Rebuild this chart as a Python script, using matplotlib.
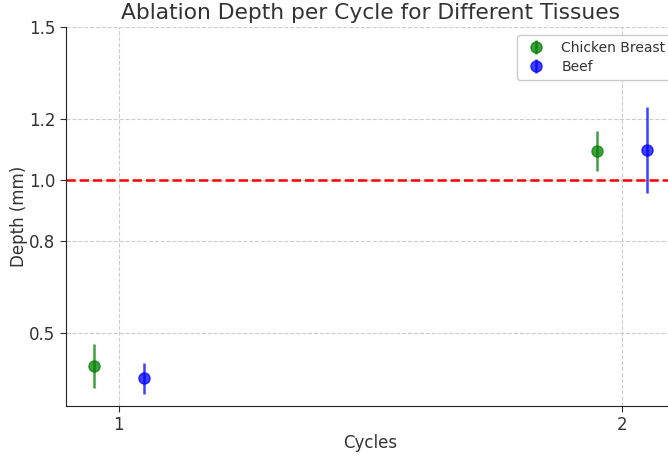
import matplotlib.pyplot as plt

cycles = [1, 2]
chicken_depth = [0.39, 1.095]
chicken_err = [0.072, 0.066]
beef_depth = [0.35, 1.098]
beef_err = [0.05, 0.14]
target_depth = 1.0
offset = 0.05

text_color = '#333333'

fig = plt.figure(figsize=(6.68, 4.57), dpi=100)
ax = fig.add_axes([0.0988, 0.1116, 0.9117, 0.8293])

ax.errorbar([c - offset for c in cycles], chicken_depth, yerr=chicken_err,
            fmt='o', color='green', alpha=0.75, markersize=8, elinewidth=1.8,
            label='Chicken Breast', zorder=3)
ax.errorbar([c + offset for c in cycles], beef_depth, yerr=beef_err,
            fmt='o', color='blue', alpha=0.75, markersize=8, elinewidth=1.8,
            label='Beef', zorder=3)
ax.axhline(target_depth, color='red', linestyle='--', linewidth=1.8, zorder=2)

ax.set_xticks(cycles)
ax.set_yticks([0.5, 0.8, 1.0, 1.2, 1.5])
ax.set_yticklabels(['0.5', '0.8', '1.0', '1.2', '1.5'])
ax.set_xlim(0.895, 2.105)
ax.set_ylim(0.26, 1.5)

ax.grid(True, linestyle='--', color='#cccccc', linewidth=0.8)
ax.set_axisbelow(True)
for side in ['top', 'right']:
    ax.spines[side].set_visible(False)
for side in ['left', 'bottom']:
    ax.spines[side].set_color('#222222')
ax.tick_params(colors=text_color, labelsize=12, length=4)

ax.set_title('Ablation Depth per Cycle for Different Tissues', fontsize=15.7,
             color=text_color, x=0.4995, pad=6)
ax.set_xlabel('Cycles', fontsize=12, color=text_color, labelpad=0)
ax.set_ylabel('Depth (mm)', fontsize=12, color=text_color, labelpad=1)

leg = ax.legend(loc='upper right', bbox_to_anchor=(1.0, 0.99), fontsize=10,
                framealpha=1, edgecolor='#cccccc', borderaxespad=0.3,
                labelspacing=0.4)
for t in leg.get_texts():
    t.set_color(text_color)

fig.savefig('out.png', dpi=100)
